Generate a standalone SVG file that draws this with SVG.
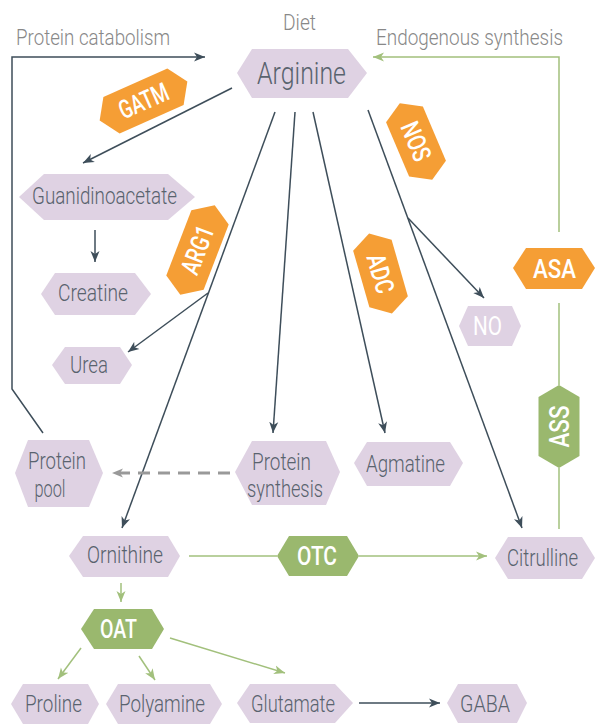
<svg xmlns="http://www.w3.org/2000/svg" width="595" height="724" viewBox="0 0 595 724">
<style>
.n{fill:#dfd2e3}
.t{font-family:Roboto,"Liberation Sans",sans-serif;font-weight:300;font-size:24.5px;fill:#59636e;text-anchor:middle}
.lb{font-family:Roboto,"Liberation Sans",sans-serif;font-weight:300;font-size:22.5px;fill:#888888}
.e{font-family:Roboto,"Liberation Sans",sans-serif;font-weight:500;font-size:26px;fill:#ffffff;text-anchor:middle}
.or{fill:#f59e35}
.gr{fill:#9ab86e}
.d{stroke:#3e4e5a;stroke-width:1.5;fill:none}
.g{stroke:#a2c07c;stroke-width:1.5;fill:none}
.da{stroke:#999999;stroke-width:3;fill:none;stroke-dasharray:12 8}
</style>
<defs>
<marker id="ad" markerUnits="userSpaceOnUse" markerWidth="12" markerHeight="10" refX="11" refY="4.5" orient="auto" viewBox="0 0 12 9"><path d="M0,0 L11,4.5 L0,9 L3,4.5 z" fill="#3e4e5a"/></marker>
<marker id="ag" markerUnits="userSpaceOnUse" markerWidth="12" markerHeight="10" refX="11" refY="4.5" orient="auto" viewBox="0 0 12 9"><path d="M0,0 L11,4.5 L0,9 L3,4.5 z" fill="#a2c07c"/></marker>
<marker id="ay" markerUnits="userSpaceOnUse" markerWidth="12" markerHeight="10" refX="11" refY="4.5" orient="auto" viewBox="0 0 12 9"><path d="M0,0 L11,4.5 L0,9 L3,4.5 z" fill="#999999"/></marker>
</defs>

<g id="labels">
<text class="lb" x="16" y="45" textLength="154" lengthAdjust="spacingAndGlyphs">Protein catabolism</text>
<text class="lb" x="283" y="30" textLength="33" lengthAdjust="spacingAndGlyphs">Diet</text>
<text class="lb" x="376" y="45" textLength="187" lengthAdjust="spacingAndGlyphs">Endogenous synthesis</text>
</g>

<g id="connectors">
<polyline class="d" points="43,433 12,389 12,57 205,57" marker-end="url(#ad)"/>
<line class="d" x1="232" y1="88" x2="83" y2="163" marker-end="url(#ad)"/>
<line class="d" x1="275" y1="112" x2="122" y2="528" marker-end="url(#ad)"/>
<line class="d" x1="208" y1="293" x2="128" y2="352" marker-end="url(#ad)"/>
<line class="d" x1="295" y1="112" x2="273" y2="433" marker-end="url(#ad)"/>
<line class="d" x1="313" y1="112" x2="385" y2="433" marker-end="url(#ad)"/>
<line class="d" x1="368" y1="110" x2="522" y2="528" marker-end="url(#ad)"/>
<line class="d" x1="408" y1="218" x2="484" y2="298" marker-end="url(#ad)"/>
<line class="d" x1="95" y1="230" x2="95" y2="262" marker-end="url(#ad)"/>
<line class="d" x1="359" y1="703" x2="440" y2="703" marker-end="url(#ad)"/>
<polyline class="g" points="559,232 559,57 373,57" marker-end="url(#ag)"/>
<line class="g" x1="559" y1="303" x2="559" y2="385"/>
<line class="g" x1="559" y1="468" x2="559" y2="529"/>
<line class="g" x1="189" y1="556" x2="277" y2="556"/>
<line class="g" x1="359" y1="556" x2="487" y2="556" marker-end="url(#ag)"/>
<line class="g" x1="121" y1="583" x2="121" y2="602" marker-end="url(#ag)"/>
<line class="g" x1="81" y1="648" x2="58" y2="679" marker-end="url(#ag)"/>
<line class="g" x1="139" y1="656" x2="155" y2="680" marker-end="url(#ag)"/>
<line class="g" x1="170" y1="638" x2="285" y2="673" marker-end="url(#ag)"/>
<line class="da" x1="230" y1="473" x2="112" y2="473" marker-end="url(#ay)"/>
</g>

<g id="arginine"><polygon class="n" points="237,73 252,49 348,49 367,73 348,98 252,98"/><text class="t" x="301.5" y="83.5" style="font-size:32px" textLength="89" lengthAdjust="spacingAndGlyphs">Arginine</text></g>
<g id="guanidinoacetate"><polygon class="n" points="19,197 44,174 168,174 195,197 168,220 44,220"/><text class="t" x="104.5" y="204" textLength="145" lengthAdjust="spacingAndGlyphs">Guanidinoacetate</text></g>
<g id="creatine"><polygon class="n" points="41,294 55,273 135,273 151,294 135,315 55,315"/><text class="t" x="93" y="301" textLength="70" lengthAdjust="spacingAndGlyphs">Creatine</text></g>
<g id="urea"><polygon class="n" points="52,365 65,347 120,347 132,365 120,384 65,384"/><text class="t" x="89" y="373" textLength="38" lengthAdjust="spacingAndGlyphs">Urea</text></g>
<g id="protein-pool"><polygon class="n" points="15,473 28,440 89,440 103,473 89,507 28,507"/><text class="t" x="57" y="469" textLength="58" lengthAdjust="spacingAndGlyphs">Protein</text><text class="t" x="50" y="497" textLength="31" lengthAdjust="spacingAndGlyphs">pool</text></g>
<g id="protein-synthesis"><polygon class="n" points="235,472 252,441 326,441 340,472 326,505 252,505"/><text class="t" x="281.5" y="470" textLength="59" lengthAdjust="spacingAndGlyphs">Protein</text><text class="t" x="285" y="497" textLength="76" lengthAdjust="spacingAndGlyphs">synthesis</text></g>
<g id="agmatine"><polygon class="n" points="354,463 367,442 450,442 463,463 450,486 367,486"/><text class="t" x="405.5" y="472" textLength="79" lengthAdjust="spacingAndGlyphs">Agmatine</text></g>
<g id="no"><polygon class="n" points="459,326 468,306 512,306 521,326 512,346 468,346"/><text class="e" x="487.5" y="335" style="font-weight:400" textLength="29" lengthAdjust="spacingAndGlyphs">NO</text></g>
<g id="ornithine"><polygon class="n" points="69,556 83,536 168,536 180,556 168,577 83,577"/><text class="t" x="125" y="563" textLength="76" lengthAdjust="spacingAndGlyphs">Ornithine</text></g>
<g id="citrulline"><polygon class="n" points="495,558 508,537 582,537 595,558 582,579 508,579"/><text class="t" x="542.5" y="566" textLength="71" lengthAdjust="spacingAndGlyphs">Citrulline</text></g>
<g id="proline"><polygon class="n" points="11,704 23,684 88,684 99,704 88,724 23,724"/><text class="t" x="53.5" y="712" textLength="57" lengthAdjust="spacingAndGlyphs">Proline</text></g>
<g id="polyamine"><polygon class="n" points="106,704 118,684 210,684 222,704 210,724 118,724"/><text class="t" x="162" y="712" textLength="86" lengthAdjust="spacingAndGlyphs">Polyamine</text></g>
<g id="glutamate"><polygon class="n" points="237,703 250,684 335,684 353,703 335,723 250,723"/><text class="t" x="293" y="712" textLength="84" lengthAdjust="spacingAndGlyphs">Glutamate</text></g>
<g id="gaba"><polygon class="n" points="447,703 458,684 517,684 527,703 517,723 458,723"/><text class="t" x="485" y="712" textLength="50" lengthAdjust="spacingAndGlyphs">GABA</text></g>

<g id="otc"><polygon class="gr" points="277,556 289,536 347,536 359,556 347,576 289,576"/><text class="e" x="317" y="565" textLength="40" lengthAdjust="spacingAndGlyphs">OTC</text></g>
<g id="oat"><polygon class="gr" points="81,629 94,609 152,609 164,629 152,649 94,649"/><text class="e" x="118.5" y="638" textLength="37" lengthAdjust="spacingAndGlyphs">OAT</text></g>
<g id="ass" transform="translate(559,426.5) rotate(-90)"><polygon class="gr" points="-41.5,0 -29.5,-20.5 29.5,-20.5 41.5,0 29.5,20.5 -29.5,20.5"/><text class="e" x="0" y="9.5" style="font-size:27px" textLength="42" lengthAdjust="spacingAndGlyphs">ASS</text></g>
<g id="asa"><polygon class="or" points="513,268 526,248 582,248 595,268 582,289 526,289"/><text class="e" x="554.5" y="277.5" textLength="43" lengthAdjust="spacingAndGlyphs">ASA</text></g>
<g id="gatm" transform="translate(143.5,101) rotate(-24)"><polygon class="or" points="-48,0 -35,-20 35,-20 48,0 35,20 -35,20"/><text class="e" x="0" y="9" textLength="52" lengthAdjust="spacingAndGlyphs">GATM</text></g>
<g id="arg1" transform="translate(197.5,250) rotate(-69)"><polygon class="or" points="-48,0 -35,-20 35,-20 48,0 35,20 -35,20"/><text class="e" x="0" y="9" textLength="50" lengthAdjust="spacingAndGlyphs">ARG1</text></g>
<g id="nos" transform="translate(416,141.5) rotate(67)"><polygon class="or" points="-41.5,0 -29.5,-20 29.5,-20 41.5,0 29.5,20 -29.5,20"/><text class="e" x="0" y="9" textLength="40" lengthAdjust="spacingAndGlyphs">NOS</text></g>
<g id="adc" transform="translate(380.5,273.5) rotate(74)"><polygon class="or" points="-41.5,0 -29.5,-20 29.5,-20 41.5,0 29.5,20 -29.5,20"/><text class="e" x="0" y="9" textLength="40" lengthAdjust="spacingAndGlyphs">ADC</text></g>
</svg>
